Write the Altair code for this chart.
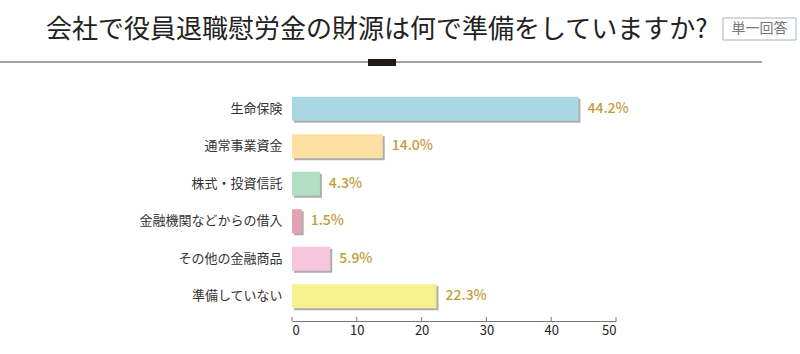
import altair as alt
import pandas as pd

categories = ["生命保険", "通常事業資金", "株式・投資信託", "金融機関などからの借入", "その他の金融商品", "準備していない"]
values = [44.2, 14.0, 4.3, 1.5, 5.9, 22.3]
colors = ["#a9d8e4", "#fce0a2", "#b4dec4", "#e6a0b4", "#f7c6dd", "#f6f08e"]
ticks = [0, 10, 20, 30, 40, 50]
title_text = "会社で役員退職慰労金の財源は何で準備をしていますか?"
badge_text = "単一回答"

df = pd.DataFrame({
    "cat": categories,
    "val": values,
    "label": [f"{v:.1f}%" for v in values],
    "color": colors,
})
tick_df = pd.DataFrame({"val": ticks})

W, H = 324, 225
FONT = "Noto Sans CJK JP"

xscale = alt.Scale(domain=[0, 50], nice=False)
yscale = alt.Scale(paddingInner=0.36, paddingOuter=0.18)

x_axis = alt.Axis(values=ticks, title=None, grid=False, ticks=False, offset=6,
                  domainColor="#777", labelFontSize=13, labelColor="#222",
                  labelPadding=3, labelFont=FONT)
y_axis = alt.Axis(title=None, domain=False, ticks=False, labelPadding=10,
                  labelFontSize=13, labelColor="#333", labelFont=FONT)


def xe():
    return alt.X("val:Q", scale=xscale, axis=x_axis)


def ye():
    return alt.Y("cat:N", sort=categories, scale=yscale, axis=y_axis)


shadow = alt.Chart(df).mark_bar(color="#adadad", xOffset=2, x2Offset=2, yOffset=2, y2Offset=2).encode(
    x=xe(), y=ye()
)
bars = alt.Chart(df).mark_bar().encode(
    x=xe(), y=ye(), color=alt.Color("color:N", scale=None)
)
labels = alt.Chart(df).mark_text(align="left", baseline="middle", dx=9, fontSize=14,
                                 fontWeight=500, color="#c29d3a", font=FONT).encode(
    x=xe(), y=ye(), text="label:N",
)
tick_rules = alt.Chart(tick_df).mark_rule(color="#777").encode(
    x=xe(),
    y=alt.value(H + 6 - 4), y2=alt.value(H + 6),
)

title = alt.Chart(pd.DataFrame({"t": [title_text]})).mark_text(
    align="left", baseline="middle", fontSize=26, color="#222", font=FONT
).encode(x=alt.value(46 - 292), y=alt.value(30 - 90), text="t:N")

hline = alt.Chart(pd.DataFrame({"a": [0]})).mark_rule(color="#444", strokeWidth=1).encode(
    x=alt.value(-292), x2=alt.value(762 - 292), y=alt.value(62 - 90)
)
dark = alt.Chart(pd.DataFrame({"a": [0]})).mark_rect(color="#231815").encode(
    x=alt.value(368 - 292), x2=alt.value(396 - 292), y=alt.value(59 - 90), y2=alt.value(66 - 90)
)
badge_box = alt.Chart(pd.DataFrame({"a": [0]})).mark_rect(fill="white", stroke="#a9aecb", strokeWidth=1).encode(
    x=alt.value(723 - 292), x2=alt.value(796 - 292), y=alt.value(18 - 90), y2=alt.value(40 - 90)
)
badge = alt.Chart(pd.DataFrame({"t": [badge_text]})).mark_text(
    align="center", baseline="middle", fontSize=14, color="#777", font=FONT
).encode(x=alt.value(759.5 - 292), y=alt.value(29 - 90), text="t:N")

chart = alt.layer(shadow, bars, labels, tick_rules, title, hline, dark, badge_box, badge).properties(
    width=W, height=H,
    background="white",
    autosize=alt.AutoSizeParams(type="none"),
    padding={"left": 292, "top": 90, "right": 800 - 292 - W, "bottom": 354 - 90 - H},
).configure_view(stroke=None, strokeWidth=0)

chart.save("out.html", embed_options={"renderer": "svg", "actions": False})
